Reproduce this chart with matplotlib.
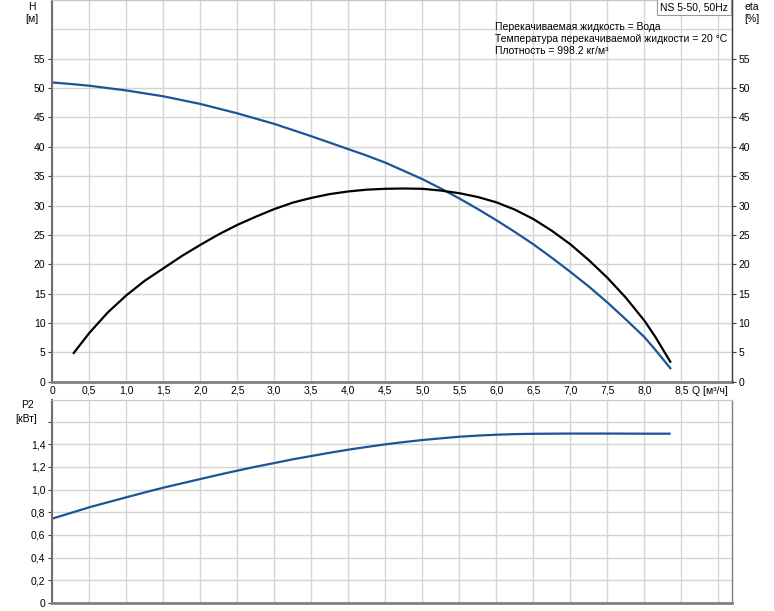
import matplotlib.pyplot as plt
import matplotlib.ticker as mticker

plt.rcParams['font.family'] = ['Liberation Sans', 'DejaVu Sans']

# data (Q in m3/h)
q_h = [0.0, 0.25, 0.5, 0.75, 1.0, 1.25, 1.5, 1.75, 2.0, 2.25, 2.5, 2.75, 3.0, 3.25,
       3.5, 3.75, 4.0, 4.25, 4.5, 4.75, 5.0, 5.25, 5.5, 5.75, 6.0, 6.25, 6.5, 6.75,
       7.0, 7.25, 7.5, 7.75, 8.0, 8.15, 8.35]
head = [50.95, 50.7, 50.4, 50.0, 49.6, 49.1, 48.6, 47.95, 47.3, 46.5, 45.7, 44.8,
        43.9, 42.85, 41.8, 40.7, 39.6, 38.5, 37.3, 35.9, 34.5, 32.9, 31.2, 29.4,
        27.5, 25.5, 23.4, 21.1, 18.7, 16.2, 13.5, 10.6, 7.6, 5.4, 2.3]

q_eta = [0.29, 0.5, 0.75, 1.0, 1.25, 1.5, 1.75, 2.0, 2.25, 2.5, 2.75, 3.0, 3.25,
         3.5, 3.75, 4.0, 4.25, 4.5, 4.75, 5.0, 5.25, 5.5, 5.75, 6.0, 6.25, 6.5,
         6.75, 7.0, 7.25, 7.5, 7.75, 8.0, 8.15, 8.35]
eta = [4.9, 8.3, 11.8, 14.7, 17.2, 19.3, 21.4, 23.3, 25.1, 26.7, 28.1, 29.4, 30.5,
       31.3, 31.95, 32.4, 32.7, 32.85, 32.9, 32.85, 32.55, 32.1, 31.45, 30.55, 29.3,
       27.7, 25.7, 23.4, 20.7, 17.7, 14.3, 10.4, 7.6, 3.4]

q_p = [0.0, 0.25, 0.5, 0.75, 1.0, 1.25, 1.5, 1.75, 2.0, 2.25, 2.5, 2.75, 3.0, 3.25,
       3.5, 3.75, 4.0, 4.25, 4.5, 4.75, 5.0, 5.25, 5.5, 5.75, 6.0, 6.25, 6.5, 7.0,
       7.5, 8.0, 8.34]
p2 = [0.744, 0.794, 0.844, 0.888, 0.932, 0.975, 1.017, 1.055, 1.093, 1.131, 1.167,
      1.202, 1.234, 1.267, 1.296, 1.325, 1.352, 1.376, 1.399, 1.419, 1.437, 1.452,
      1.466, 1.476, 1.484, 1.489, 1.492, 1.494, 1.494, 1.493, 1.493]

info_lines = ["Перекачиваемая жидкость = Вода",
              "Температура перекачиваемой жидкости = 20 °C",
              "Плотность = 998.2 кг/м³"]
title = "NS 5-50, 50Hz"

BLUE = '#1a5597'
GRID = '#d4d4d4'
SPINE = '#707070'
FS = 7.5

W, H = 774, 611
fig = plt.figure(figsize=(W / 100, H / 100), dpi=100)


def px_axes(x0, y0, x1, y1):
    return fig.add_axes([x0 / W, 1 - y1 / H, (x1 - x0) / W, (y1 - y0) / H])


def dec(v):
    return '0' if abs(v) < 1e-9 else ('%.1f' % v).replace('.', ',')


def style(ax):
    ax.set_facecolor('white')
    ax.grid(True, color=GRID, lw=1.0)
    ax.set_axisbelow(True)
    ax.spines['top'].set_color('#c8c8c8')
    ax.spines['left'].set_color(SPINE)
    ax.spines['left'].set_linewidth(1.5)
    ax.spines['right'].set_color('#404040')
    ax.spines['right'].set_linewidth(1.0)
    ax.spines['bottom'].set_color('#808080')
    ax.spines['bottom'].set_linewidth(2.0)
    ax.tick_params(labelsize=FS, length=3, width=0.8, color='#404040', pad=2)


def hide_top_ticks(a, limit):
    for t, v in zip(a.yaxis.get_major_ticks(), a.yaxis.get_majorticklocs()):
        if v > limit:
            t.tick1line.set_visible(False)
            t.tick2line.set_visible(False)


# ---- top: head / efficiency ----
ax = px_axes(52.3, 0, 731.7, 381.7)
style(ax)
ax.set_xlim(0, 9.18)
ax.set_ylim(0, 65)
ax.xaxis.set_major_locator(mticker.MultipleLocator(0.5))
ax.yaxis.set_major_locator(mticker.MultipleLocator(5))
ax.xaxis.set_major_formatter(mticker.FuncFormatter(
    lambda v, p: '' if v > 8.6 else dec(v)))
ax.yaxis.set_major_formatter(mticker.FuncFormatter(
    lambda v, p: '' if v > 57 else '%d' % v))
ax.tick_params(axis='x', length=0, pad=3)
ax.plot(q_h, head, color=BLUE, lw=1.6)

ax2 = ax.twinx()
ax2.set_ylim(0, 65)
ax2.yaxis.set_major_locator(mticker.MultipleLocator(5))
ax2.yaxis.set_major_formatter(mticker.FuncFormatter(
    lambda v, p: '' if v > 57 else '%d' % v))
ax2.tick_params(labelsize=FS, length=3, width=0.8, color='#404040', pad=2)
for s in ('top', 'left', 'bottom'):
    ax2.spines[s].set_visible(False)
ax2.spines['right'].set_color('#404040')
ax2.plot(q_eta, eta, color='black', lw=1.6)

hide_top_ticks(ax, 57)
hide_top_ticks(ax2, 57)

fig.text(32 / W, 1 - 7 / H, "H", fontsize=FS, ha='center', va='center')
fig.text(32 / W, 1 - 19 / H, "[м]", fontsize=FS, ha='center', va='center')
fig.text(752 / W, 1 - 7 / H, "eta", fontsize=FS, ha='center', va='center')
fig.text(752 / W, 1 - 19 / H, "[%]", fontsize=FS, ha='center', va='center')
fig.text(692 / W, 1 - 391.5 / H, "Q [м³/ч]", fontsize=FS, ha='left', va='center')

for i, line in enumerate(info_lines):
    fig.text(495 / W, 1 - (26.5 + 12.2 * i) / H, line, fontsize=FS,
             ha='left', va='center')
fig.text(694 / W, 1 - 7 / H, title, fontsize=FS, ha='center', va='center',
         bbox=dict(boxstyle='square,pad=0.3', fc='white', ec='#999999', lw=0.8))

# ---- bottom: power ----
bx = px_axes(52.3, 400, 731.7, 603)
style(bx)
bx.set_xlim(0, 9.18)
bx.set_ylim(0, 1.79)
bx.xaxis.set_major_locator(mticker.MultipleLocator(0.5))
bx.yaxis.set_major_locator(mticker.MultipleLocator(0.2))
bx.xaxis.set_major_formatter(mticker.NullFormatter())
bx.tick_params(axis='x', length=0)
bx.yaxis.set_major_formatter(mticker.FuncFormatter(
    lambda v, p: '' if v > 1.5 else dec(v)))
bx.spines['right'].set_color('#808080')
bx.plot(q_p, p2, color=BLUE, lw=1.6)

fig.text(28 / W, 1 - 405 / H, "P2", fontsize=FS, ha='center', va='center')
fig.text(26 / W, 1 - 419 / H, "[кВт]", fontsize=FS, ha='center', va='center')

fig.savefig('out.png', dpi=100)
